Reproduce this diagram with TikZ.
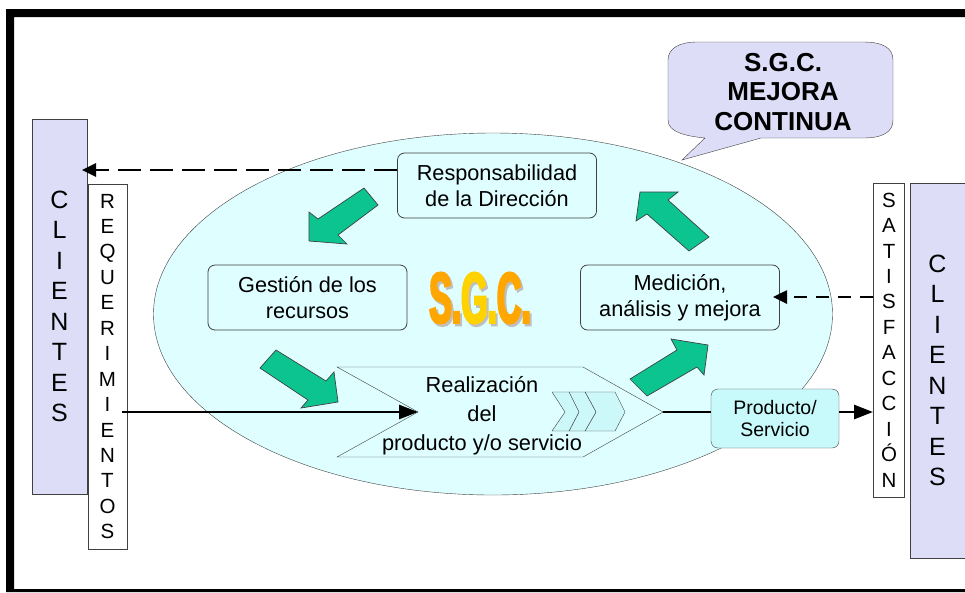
\documentclass[tikz,border=0pt]{standalone}
\usepackage{fontspec}
\usepackage{xcolor}
\usetikzlibrary{shapes.geometric,arrows.meta}
\setmainfont{Liberation Sans}
\newfontfamily\logofont{Liberation Sans}[BoldFeatures={FakeBold=3,FakeStretch=0.47}]
\definecolor{ovalblue}{HTML}{DFFEFF}
\definecolor{lavender}{HTML}{DDDDF8}
\definecolor{cyanbox}{HTML}{C8FAFB}
\definecolor{chevblue}{HTML}{CCF8FA}
\definecolor{arrowgreen}{HTML}{0CC48F}
\definecolor{edgegray}{HTML}{404040}

\begin{document}
\begin{tikzpicture}[x=1pt,y=-1pt]
    % Define styles
    \tikzstyle{sidebar}=[draw=edgegray, fill=lavender, inner sep=0, align=center, minimum width=55, font=\fontsize{25}{30.5}\selectfont]
    \tikzstyle{letterbox}=[draw=edgegray, fill=white, inner sep=0, align=center, font=\fontsize{20.5}{25.45}\selectfont]
    \tikzstyle{stagebox}=[draw=edgegray, line width=0.8, rounded corners=7, inner sep=0, align=center, minimum width=199, minimum height=65, font=\fontsize{21.7}{26}\selectfont]
    \tikzstyle{bigarrow}=[draw=edgegray, fill=arrowgreen, line width=0.7]
    \tikzstyle{flow}=[line width=2.8, -{Triangle[length=19,width=14]}]
    \tikzstyle{feedback}=[line width=2.6, -{Triangle[length=14,width=13]}]
    \tikzstyle{logotext}=[inner sep=0, font=\logofont\bfseries\fontsize{72}{72}\selectfont]

    \useasboundingbox (0,0) rectangle (965,592);

    % Page frame, open on the right
    \fill[black] (965,9) -- (6,9) -- (6,592) -- (965,592) -- (965,589) -- (14,589) -- (14,17) -- (965,17) -- cycle;

    % Oval
    \node[ellipse, draw=edgegray, fill=ovalblue, inner sep=0, minimum width=679, minimum height=362] (oval) at (493,314) {};

    % Callout
    \draw[draw=edgegray, fill=lavender] (697,42) -- (863,42) .. controls (883,42) and (893,48) .. (893,60) -- (893,120) .. controls (893,132) and (883,138) .. (863,138) -- (761,138) -- (682,160) -- (705,138) .. controls (685,136) and (668,132) .. (668,120) -- (668,60) .. controls (668,48) and (680,42) .. (697,42) -- cycle;
    \node[align=center, inner sep=0, font=\bfseries\fontsize{26}{29.5}\selectfont] (calloutText) at (783,92) {S.G.C.\\MEJORA\\CONTINUA};

    % Sidebars
    \node[sidebar, minimum height=375] (clientesLeft) at (59.5,306.5) {C\\L\\I\\E\\N\\T\\E\\S};
    \node[letterbox, minimum width=39, minimum height=365] (reqBox) at (107.5,366.5) {R\\E\\Q\\U\\E\\R\\I\\M\\I\\E\\N\\T\\O\\S};
    \node[letterbox, minimum width=31, minimum height=314] (satisBox) at (889,340) {S\\A\\T\\I\\S\\F\\A\\C\\C\\I\\Ó\\N};
    \node[sidebar, minimum height=375] (clientesRight) at (937.5,370.5) {C\\L\\I\\E\\N\\T\\E\\S};

    % Stages
    \node[stagebox] (respBox) at (497,185.5) {Responsabilidad\\de la Dirección};
    \node[stagebox] (gestionBox) at (307.5,297.5) {Gestión de los\\recursos};
    \node[stagebox] (medicionBox) at (680,297.5) {Medición,\\análisis y mejora};

    % Green arrows
    \draw[bigarrow] (309,212) -- (318,219) -- (364,188) -- (378,205) -- (338,235) -- (347,244) -- (309,241) -- cycle;
    \draw[bigarrow] (260,368) -- (276,350) -- (326,381) -- (334,372) -- (338,402) -- (301,408) -- (308,400) -- cycle;
    \draw[bigarrow] (636,221) -- (640,192) -- (678,192) -- (668,200) -- (709,237) -- (689,251) -- (647,214) -- cycle;
    \draw[bigarrow] (630,379) -- (677,350) -- (671,339) -- (708,345) -- (704,375) -- (697,367) -- (647,396) -- cycle;

    % Realization shape
    \draw[draw=edgegray, fill=ovalblue] (337,367) -- (583,367) -- (663,412) -- (583,457) -- (337,457) -- (418,412) -- cycle;
    \node[align=center, inner sep=0, font=\fontsize{21.8}{29}\selectfont] (realText) at (482,416) {Realización\\del\\producto y/o servicio};
    \coordinate (notch) at (418,412);
    \coordinate (point) at (663,412);

    % Small chevrons
    \draw[draw=edgegray, fill=chevblue] (585,392) -- (615,392) -- (625,412) -- (615,431) -- (585,431) -- (596,412) -- cycle;
    \draw[draw=edgegray, fill=chevblue] (569,392) -- (585,392) -- (596,412) -- (585,431) -- (569,431) -- (579,412) -- cycle;
    \draw[draw=edgegray, fill=chevblue] (552,392) -- (569,392) -- (579,412) -- (569,431) -- (552,431) -- (565,412) -- cycle;

    % Product box
    \node[draw=edgegray, fill=cyanbox, rounded corners=7, inner sep=0, align=center, minimum width=128, minimum height=59, font=\fontsize{19.5}{22}\selectfont] (productoBox) at (775,418.5) {Producto/\\Servicio};

    % Connectors
    \coordinate (reqOut) at (122,412);
    \coordinate (prodIn) at (711,412);
    \coordinate (prodOut) at (839,412);
    \coordinate (satisIn) at (873,412);
    \draw[flow] (reqOut) -- (notch);
    \draw[line width=2.8] (point) -- (prodIn);
    \draw[flow] (prodOut) -- (satisIn);

    \coordinate (respOut) at (397,170);
    \coordinate (clientIn) at (82,170);
    \coordinate (satisOut) at (873,297);
    \coordinate (medIn) at (773,297);
    \draw[feedback, dash pattern=on 23 off 9] (respOut) -- (clientIn);
    \draw[feedback, dash pattern=on 13 off 9] (satisOut) -- (medIn);

    % Word art
    \node[logotext, text=black!25] (logoShadow) at (482,300.5) {S.G.C.};
    \node[logotext] (logo) at (480,298) {\textcolor{orange!70!yellow}{S.}\textcolor{orange!35!yellow}{G.}\textcolor{orange!70!yellow}{C.}};
\end{tikzpicture}
\end{document}
